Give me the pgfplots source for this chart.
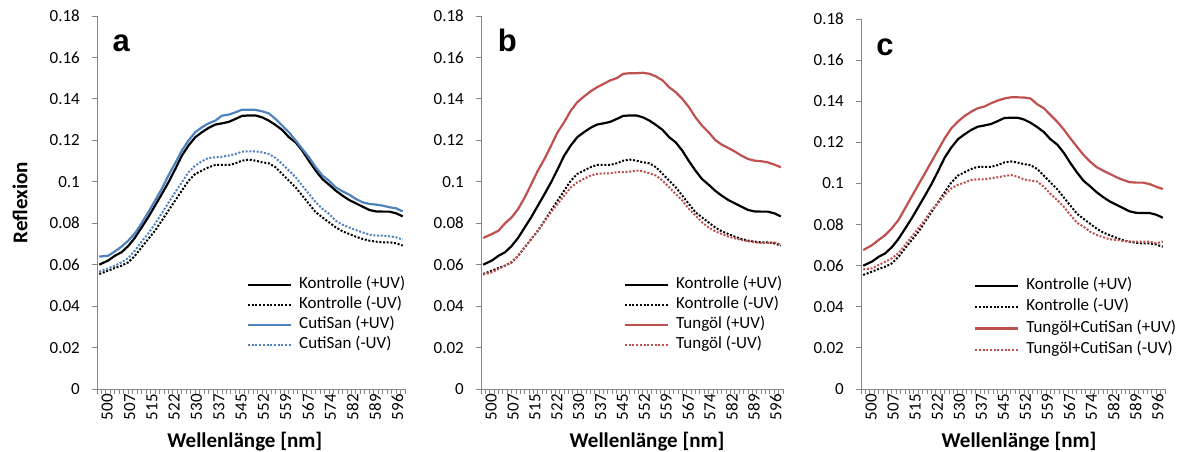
\documentclass[border=0pt]{standalone}
\usepackage{fontspec}
\setmainfont{Carlito}
\newfontfamily\arialfont{Liberation Sans}
\usepackage{pgfplots}
\pgfplotsset{compat=1.18}
\usepackage{pgfplotstable}
\definecolor{xlblue}{RGB}{79,129,189}
\definecolor{xlred}{RGB}{192,80,77}
\definecolor{axgray}{RGB}{134,134,134}

\pgfplotstableread{
x Kp Km Cp Cm Tp Tm TCp TCm
0 0.0600 0.0555 0.0639 0.0566 0.0729 0.0552 0.0676 0.0582
2 0.0620 0.0571 0.0643 0.0582 0.0748 0.0563 0.0700 0.0587
3.5 0.0643 0.0584 0.0664 0.0595 0.0764 0.0579 0.0725 0.0603
5 0.0660 0.0595 0.0687 0.0611 0.0800 0.0595 0.0749 0.0619
6.5 0.0690 0.0611 0.0716 0.0632 0.0828 0.0614 0.0782 0.0636
8 0.0730 0.0643 0.0751 0.0668 0.0869 0.0643 0.0822 0.0660
9.5 0.0780 0.0684 0.0800 0.0711 0.0925 0.0684 0.0879 0.0701
11 0.0830 0.0724 0.0853 0.0751 0.0989 0.0724 0.0936 0.0741
12.5 0.0885 0.0764 0.0909 0.0796 0.1054 0.0764 0.0993 0.0782
14 0.0940 0.0812 0.0965 0.0848 0.1110 0.0808 0.1049 0.0822
15.5 0.0997 0.0861 0.1030 0.0898 0.1174 0.0853 0.1106 0.0871
17 0.1060 0.0909 0.1089 0.0949 0.1239 0.0893 0.1163 0.0903
18.5 0.1126 0.0957 0.1150 0.0997 0.1287 0.0933 0.1220 0.0944
20 0.1175 0.1005 0.1199 0.1046 0.1343 0.0973 0.1268 0.0976
21.5 0.1215 0.1038 0.1239 0.1078 0.1384 0.0997 0.1301 0.0993
23 0.1239 0.1054 0.1263 0.1099 0.1411 0.1014 0.1328 0.1004
24.5 0.1260 0.1070 0.1282 0.1115 0.1436 0.1030 0.1349 0.1017
26 0.1276 0.1081 0.1295 0.1118 0.1456 0.1038 0.1366 0.1020
27.5 0.1282 0.1081 0.1319 0.1121 0.1472 0.1041 0.1374 0.1020
29 0.1289 0.1081 0.1324 0.1126 0.1489 0.1041 0.1390 0.1025
30.5 0.1303 0.1089 0.1335 0.1134 0.1500 0.1046 0.1403 0.1030
32 0.1318 0.1102 0.1348 0.1145 0.1521 0.1046 0.1413 0.1036
33.5 0.1320 0.1107 0.1348 0.1147 0.1524 0.1049 0.1419 0.1041
35 0.1320 0.1102 0.1347 0.1147 0.1524 0.1054 0.1419 0.1033
36.5 0.1311 0.1094 0.1340 0.1142 0.1526 0.1051 0.1418 0.1020
38 0.1295 0.1089 0.1330 0.1134 0.1521 0.1041 0.1413 0.1014
39.5 0.1274 0.1070 0.1303 0.1115 0.1508 0.1030 0.1385 0.1009
41 0.1250 0.1038 0.1271 0.1086 0.1489 0.1005 0.1366 0.0984
42.5 0.1215 0.1005 0.1239 0.1054 0.1456 0.0973 0.1333 0.0949
44 0.1190 0.0973 0.1199 0.1022 0.1432 0.0941 0.1301 0.0920
45.5 0.1150 0.0933 0.1158 0.0981 0.1400 0.0909 0.1263 0.0887
47 0.1100 0.0893 0.1118 0.0941 0.1360 0.0869 0.1220 0.0847
48.5 0.1054 0.0853 0.1070 0.0901 0.1311 0.0837 0.1179 0.0809
50 0.1013 0.0828 0.1030 0.0869 0.1271 0.0804 0.1139 0.0790
51.5 0.0986 0.0804 0.1005 0.0845 0.1239 0.0780 0.1106 0.0765
53 0.0957 0.0780 0.0973 0.0812 0.1202 0.0761 0.1079 0.0749
54.5 0.0933 0.0761 0.0954 0.0793 0.1179 0.0748 0.1062 0.0738
56 0.0912 0.0748 0.0938 0.0780 0.1163 0.0735 0.1046 0.0728
57.5 0.0896 0.0735 0.0917 0.0767 0.1146 0.0727 0.1030 0.0725
59 0.0880 0.0724 0.0901 0.0756 0.1126 0.0719 0.1017 0.0720
60.5 0.0864 0.0716 0.0893 0.0745 0.1110 0.0713 0.1006 0.0717
62 0.0857 0.0711 0.0890 0.0740 0.1102 0.0708 0.1004 0.0717
63.5 0.0856 0.0708 0.0885 0.0740 0.1099 0.0705 0.1004 0.0717
65 0.0856 0.0708 0.0877 0.0737 0.1094 0.0705 0.0997 0.0717
66.5 0.0848 0.0703 0.0872 0.0732 0.1083 0.0708 0.0984 0.0709
68 0.0833 0.0692 0.0857 0.0721 0.1070 0.0697 0.0973 0.0717
}\data

\pgfplotsset{
  panel/.style={
    scale only axis,
    xmin=-0.5, xmax=68.5, ymin=0, ymax=0.18,
    axis x line*=bottom, axis y line*=left,
    axis line style={axgray, line width=0.9pt, -},
    xtick={0,5,...,65},
    xticklabels={500,507,515,522,530,537,545,552,559,567,574,582,589,596},
    minor xtick={-0.5,0.5,...,68.5},
    ytick={0,0.02,0.04,0.06,0.08,0.1,0.12,0.14,0.16,0.18},
    yticklabels={0,0.02,0.04,0.06,0.08,0.1,0.12,0.14,0.16,0.18},
    tick align=outside,
    major tick length=5pt, minor tick length=5pt,
    major x tick style={draw=none},
    minor x tick style={axgray, line width=0.9pt},
    major y tick style={axgray, line width=0.9pt},
    xticklabel style={rotate=90, anchor=east, inner sep=0pt, yshift=-8pt, font=\fontsize{17}{17}\selectfont},
    yticklabel style={anchor=east, inner sep=0pt, xshift=-12pt, font=\fontsize{17}{17}\selectfont},
    xlabel={Wellenlänge [nm]},
    xlabel style={anchor=center, font=\fontsize{21}{21}\selectfont\bfseries},
    label style={inner sep=0pt},
    legend cell align=left,
    legend image code/.code={\draw[##1] (0pt,0pt) -- (43pt,0pt); \path (50pt,0pt);},
    legend style={draw=none, fill=none, anchor=north west, inner sep=0pt, outer sep=0pt,
      font=\fontsize{17}{17}\selectfont, row sep=0pt,
      nodes={inner xsep=0pt, inner ysep=0.5pt, text height=13pt, text depth=6pt}},
  },
  solidl/.style={line width=2.2pt, line join=round},
  dotl/.style={line width=2pt, dash pattern=on 2pt off 1.7pt},
}

\begin{document}
\begin{tikzpicture}
\useasboundingbox (0pt,0pt) rectangle (1185pt,452pt);

% Panel a
\begin{axis}[panel, at={(97pt,63pt)}, anchor=south west, width=308pt, height=373pt,
  ylabel={Reflexion},
  ylabel style={at={(axis description cs:-0.25,0.5)}, anchor=center, font=\fontsize{21}{21}\selectfont\bfseries},
  xlabel style={at={(axis description cs:0.48,-0.141)}},
  legend style={at={(axis description cs:0.487,0.305)}},
]
\addplot[solidl, black] table[x=x, y=Kp] {\data};
\addlegendentry{Kontrolle (+UV)}
\addplot[dotl, black] table[x=x, y=Km] {\data};
\addlegendentry{Kontrolle (-UV)}
\addplot[solidl, xlblue] table[x=x, y=Cp] {\data};
\addlegendentry{CutiSan (+UV)}
\addplot[dotl, xlblue] table[x=x, y=Cm] {\data};
\addlegendentry{CutiSan (-UV)}
\node[anchor=base west, inner sep=0pt, font=\fontsize{31}{31}\selectfont\arialfont\bfseries] at (axis description cs:0.05,0.9035) {a};
\end{axis}

% Panel b
\begin{axis}[panel, at={(481pt,63pt)}, anchor=south west, width=302pt, height=373pt,
  xlabel style={at={(axis description cs:0.55,-0.141)}},
  legend style={at={(axis description cs:0.4735,0.305)}},
]
\addplot[solidl, black] table[x=x, y=Kp] {\data};
\addlegendentry{Kontrolle (+UV)}
\addplot[dotl, black] table[x=x, y=Km] {\data};
\addlegendentry{Kontrolle (-UV)}
\addplot[solidl, xlred] table[x=x, y=Tp] {\data};
\addlegendentry{Tungöl (+UV)}
\addplot[dotl, xlred] table[x=x, y=Tm] {\data};
\addlegendentry{Tungöl (-UV)}
\node[anchor=base west, inner sep=0pt, font=\fontsize{31}{31}\selectfont\arialfont\bfseries] at (axis description cs:0.055,0.9035) {b};
\end{axis}

% Panel c
\begin{axis}[panel, at={(861pt,63pt)}, anchor=south west, width=304pt, height=370pt,
  xlabel style={at={(axis description cs:0.52,-0.142)}},
  legend style={at={(axis description cs:0.372,0.308)}, nodes={inner ysep=1.2pt}},
]
\addplot[solidl, black] table[x=x, y=Kp] {\data};
\addlegendentry{Kontrolle (+UV)}
\addplot[dotl, black] table[x=x, y=Km] {\data};
\addlegendentry{Kontrolle (-UV)}
\addplot[solidl, xlred] table[x=x, y=TCp] {\data};
\addlegendentry{Tungöl+CutiSan (+UV)}
\addplot[dotl, xlred] table[x=x, y=TCm] {\data};
\addlegendentry{Tungöl+CutiSan (-UV)}
\node[anchor=base west, inner sep=0pt, font=\fontsize{31}{31}\selectfont\arialfont\bfseries] at (axis description cs:0.05,0.9) {c};
\end{axis}
\end{tikzpicture}
\end{document}
